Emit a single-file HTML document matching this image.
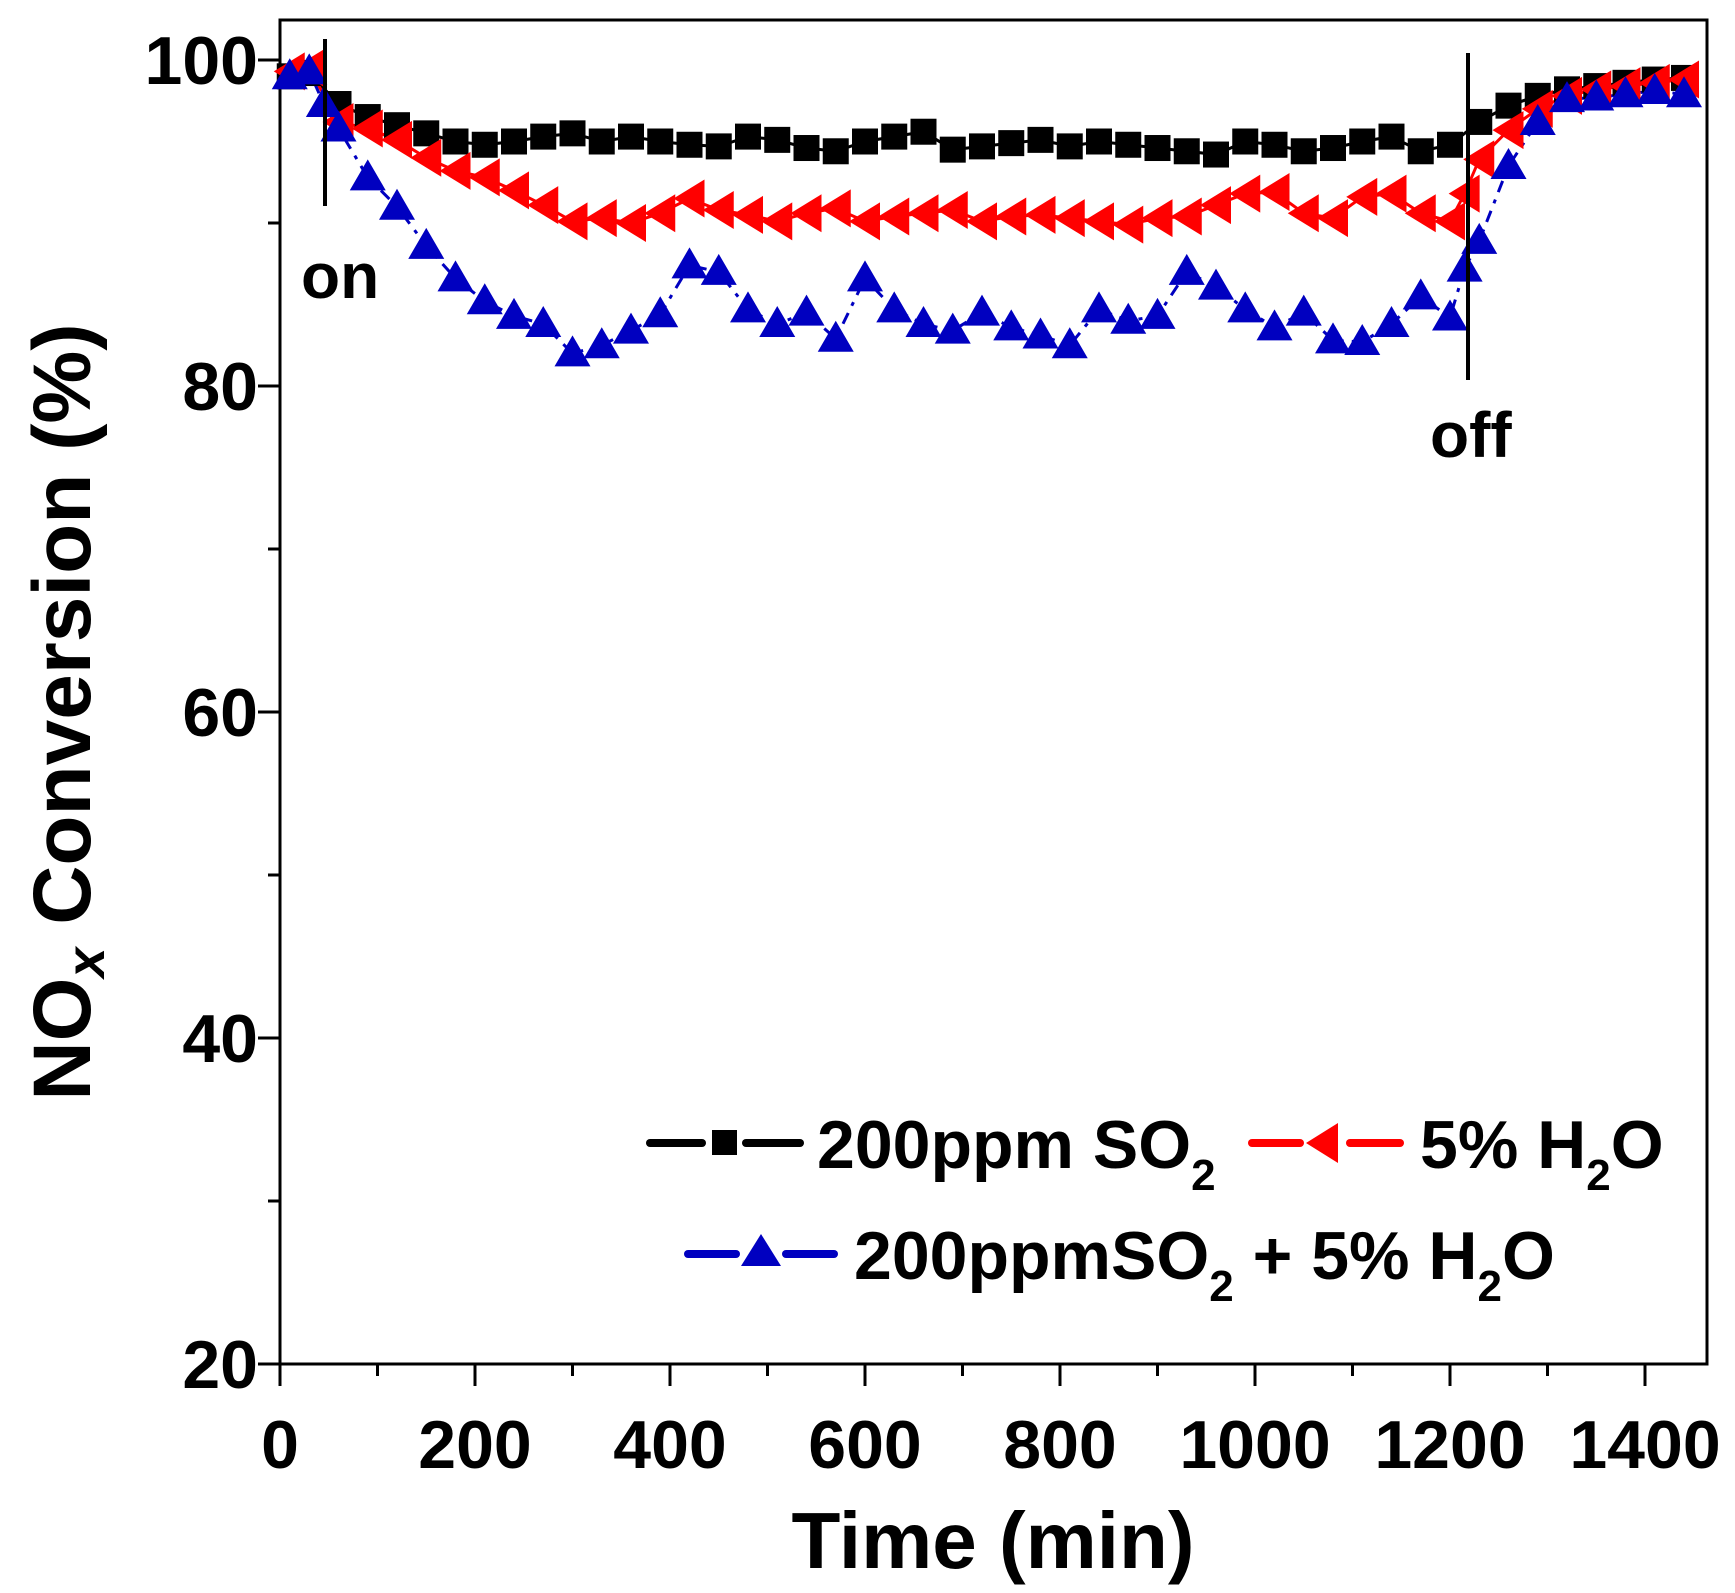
<!DOCTYPE html>
<html><head><meta charset="utf-8"><style>
html,body{margin:0;padding:0;background:#fff;}
svg{display:block;font-family:"Liberation Sans",Arial,sans-serif;font-weight:bold;}
</style></head><body>
<svg id="chart" width="1735" height="1593" viewBox="0 0 1735 1593" xmlns="http://www.w3.org/2000/svg">
<g id="axes"></g>
<g id="series"></g>
<g>
<line x1="325" y1="39" x2="325" y2="206" stroke="#000" stroke-width="4"/>
<text x="301" y="298" font-size="64">on</text>
<line x1="1468" y1="53" x2="1468" y2="380" stroke="#000" stroke-width="4"/>
<text x="1430" y="457" font-size="64">off</text>
</g>
<g>
<g>
<line x1="650" y1="1143" x2="702" y2="1143" stroke="#000" stroke-width="8" stroke-linecap="round"/>
<line x1="746" y1="1143" x2="800" y2="1143" stroke="#000" stroke-width="8" stroke-linecap="round"/>
<rect x="712" y="1130" width="25" height="25" fill="#000"/>
<text x="817" y="1168" font-size="68">200ppm SO<tspan font-size="44" dy="22">2</tspan></text>
</g>
<g>
<line x1="1252" y1="1143" x2="1300" y2="1143" stroke="#f00" stroke-width="8" stroke-linecap="round"/>
<line x1="1350" y1="1143" x2="1400" y2="1143" stroke="#f00" stroke-width="8" stroke-linecap="round"/>
<polygon points="1306,1143 1338,1123 1338,1163" fill="#f00"/>
<text x="1420" y="1168" font-size="68">5% H<tspan font-size="44" dy="22">2</tspan><tspan dy="-22">O</tspan></text>
</g>
<g>
<line x1="688" y1="1254" x2="736" y2="1254" stroke="#0000c0" stroke-width="8" stroke-linecap="round"/>
<line x1="786" y1="1254" x2="834" y2="1254" stroke="#0000c0" stroke-width="8" stroke-linecap="round"/>
<polygon points="761,1234 741,1266 781,1266" fill="#0000c0"/>
<text x="854" y="1279" font-size="68">200ppmSO<tspan font-size="44" dy="22">2</tspan><tspan dy="-22"> + 5% H</tspan><tspan font-size="44" dy="22">2</tspan><tspan dy="-22">O</tspan></text>
</g>
</g>
<text x="993" y="1568" font-size="80" text-anchor="middle">Time (min)</text>
<text transform="translate(90,712) rotate(-90)" font-size="82" text-anchor="middle">NO<tspan font-size="54" dy="14" font-style="italic">x</tspan><tspan dy="-14"> Conversion (%)</tspan></text>
</svg>
<script>
const xTicks=[0,200,400,600,800,1000,1200,1400];
const yTicks=[20,40,60,80,100];
const times=[10,30,60,90,120,150,180,210,240,270,300,330,360,390,420,450,480,510,540,570,600,630,660,690,720,750,780,810,840,870,900,930,960,990,1020,1050,1080,1110,1140,1170,1200,1230,1260,1290,1320,1350,1380,1410,1440];
const so2=[99,99.2,97.3,96.5,96,95.5,95,94.8,95,95.3,95.5,95,95.3,95,94.8,94.7,95.3,95.1,94.6,94.4,95,95.3,95.6,94.5,94.7,94.9,95.1,94.7,95,94.8,94.6,94.4,94.2,95,94.8,94.4,94.6,95,95.3,94.4,94.8,96.2,97.2,97.8,98.2,98.4,98.6,98.8,98.9];
const h2oTimes=[10,30,60,90,120,150,180,210,240,270,300,330,360,390,420,450,480,510,540,570,600,630,660,690,720,750,780,810,840,870,900,930,960,990,1020,1050,1080,1110,1140,1170,1200,1215,1230,1260,1290,1320,1350,1380,1410,1440];
const h2o=[99.3,99.5,96.2,95.8,95.1,94,93.2,92.8,92,91.1,90.1,90.3,90,90.6,91.5,90.8,90.5,90.1,90.6,90.9,90.1,90.4,90.6,90.8,90.1,90.4,90.5,90.3,90.1,89.9,90.3,90.4,91.1,91.8,91.9,90.6,90.3,91.6,91.8,90.6,90.1,91.8,93.9,95.7,97,97.8,98.2,98.4,98.6,98.8];
const bothTimes=[10,30,45,60,90,120,150,180,210,240,270,300,330,360,390,420,450,480,510,540,570,600,630,660,690,720,750,780,810,840,870,900,930,960,990,1020,1050,1080,1110,1140,1170,1200,1215,1230,1260,1290,1320,1350,1380,1410,1440];
const both=[99,99.3,97.3,95.8,92.8,91,88.6,86.6,85.2,84.3,83.8,82,82.5,83.4,84.4,87.4,87,84.7,83.8,84.5,82.9,86.6,84.7,83.8,83.4,84.5,83.6,83.1,82.5,84.7,84,84.3,87,86.1,84.7,83.6,84.5,82.8,82.7,83.8,85.5,84.2,87.2,88.9,93.5,96.2,97.6,97.7,97.9,98.1,97.9];

const L=280,R=1707,T=20,B=1364;
const xs=v=>L+v*(1645-L)/1400;
const ys=v=>1364-(v-20)*(1364-60)/80;
const NS='http://www.w3.org/2000/svg';
function mk(tag,attrs,parent){const e=document.createElementNS(NS,tag);for(const k in attrs)e.setAttribute(k,attrs[k]);parent.appendChild(e);return e;}
const ax=document.getElementById('axes'),sr=document.getElementById('series');
const frame=mk('rect',{x:L,y:T,width:R-L,height:B-T,fill:'none',stroke:'#000','stroke-width':3},ax);


for(let v=0;v<=1400;v+=100){const major=v%200===0;const t=mk('line',{x1:xs(v),x2:xs(v),y1:B,y2:B+(major?22:12),stroke:'#000','stroke-width':3},ax);

}
for(let v=20;v<=100;v+=10){const major=v%20===0;const t=mk('line',{x1:L-(major?22:12),x2:L,y1:ys(v),y2:ys(v),stroke:'#000','stroke-width':3},ax);

}
xTicks.forEach(v=>{const t=mk('text',{x:xs(v),y:1468,'font-size':68,'text-anchor':'middle'},ax);t.textContent=v;

});
yTicks.forEach(v=>{const t=mk('text',{x:258,y:ys(v)+24,'font-size':68,'text-anchor':'end'},ax);t.textContent=v;

});
function line(tt,vals,color,dash,name){const p=mk('polyline',{points:tt.map((t,i)=>xs(t)+','+ys(vals[i])).join(' '),fill:'none',stroke:color,'stroke-width':3,'stroke-dasharray':dash},sr);

}
line(times,so2,'#000','none','so2-line');
line(h2oTimes,h2o,'#f00','none','h2o-line');
line(bothTimes,both,'#0000c0','12 8 4 8','so2-h2o-line');
times.forEach((t,i)=>{const x=xs(t),y=ys(so2[i]);const m=mk('rect',{x:x-13,y:y-13,width:26,height:26,fill:'#000'},sr);

});
h2oTimes.forEach((t,i)=>{const x=xs(t),y=ys(h2o[i]);const m=mk('polygon',{points:`${x-16},${y} ${x+15},${y-19} ${x+15},${y+19}`,fill:'#f00'},sr);

});
bothTimes.forEach((t,i)=>{const x=xs(t),y=ys(both[i]);const m=mk('polygon',{points:`${x},${y-18} ${x-18},${y+13} ${x+18},${y+13}`,fill:'#0000c0'},sr);

});
</script>
</body></html>
